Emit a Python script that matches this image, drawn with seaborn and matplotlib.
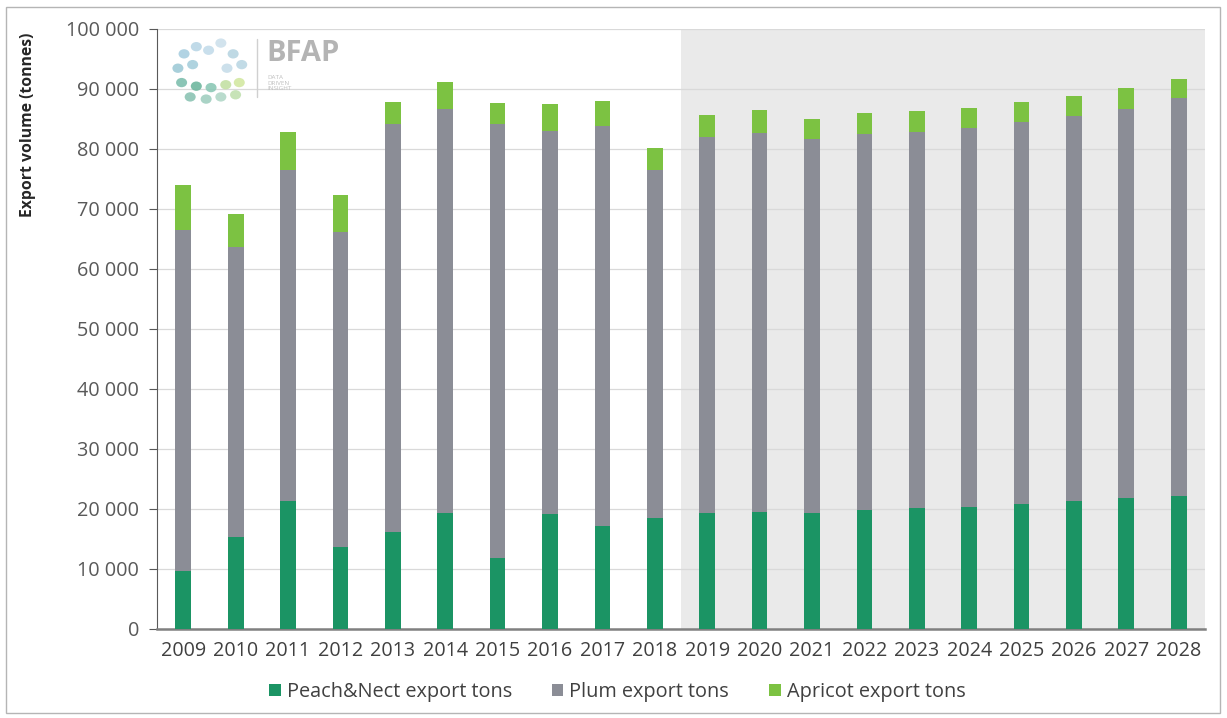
import matplotlib
matplotlib.use("Agg")
import matplotlib.pyplot as plt
import matplotlib.ticker as mticker
from matplotlib.patches import Rectangle, Ellipse
import seaborn as sns
import pandas as pd

# datos (toneladas)
years = [str(y) for y in range(2009, 2029)]
peach_nect = [9700, 15400, 21300, 13700, 16100, 19400, 11800, 19100, 17100, 18500,
              19400, 19450, 19400, 19750, 20200, 20400, 20850, 21350, 21850, 22150]
plum_top = [66400, 63700, 76400, 66100, 84100, 86600, 84100, 82900, 83800, 76400,
            82000, 82700, 81700, 82400, 82800, 83400, 84500, 85500, 86700, 88400]
total = [73900, 69050, 82800, 72300, 87850, 91050, 87600, 87500, 87900, 80100,
         85700, 86400, 85000, 86000, 86300, 86800, 87800, 88800, 90100, 91600]
plum = [t - p for t, p in zip(plum_top, peach_nect)]
apricot = [t - p for t, p in zip(total, plum_top)]
series_names = ["Peach&Nect export tons", "Plum export tons", "Apricot export tons"]
colors = ["#1b9464", "#8b8d96", "#7cc242"]

df = pd.DataFrame({"year": years, "peach": peach_nect, "plum": plum, "apricot": apricot})

sns.set_style("white")
plt.rcParams["font.family"] = ["Open Sans", "DejaVu Sans"]

fig = plt.figure(figsize=(12.27, 7.18), dpi=100)
ax = fig.add_axes([0.128, 0.124, 0.854, 0.836])

# zona de proyeccion
ax.axvspan(9.5, 19.5, color="#eaeaea", zorder=0, lw=0)

bottom = [0] * len(years)
for col, name, c in zip(["peach", "plum", "apricot"], series_names, colors):
    sns.barplot(data=df, x="year", y=col, color=c, bottom=bottom, width=0.3,
                label=name, ax=ax, zorder=3, saturation=1, linewidth=0)
    bottom = [b + v for b, v in zip(bottom, df[col])]

ax.set_xlim(-0.5, 19.5)
ax.set_ylim(0, 100000)
ax.yaxis.set_major_locator(mticker.MultipleLocator(10000))
ax.yaxis.set_major_formatter(mticker.FuncFormatter(lambda v, p: f"{int(v):,}".replace(",", " ")))
ax.grid(axis="y", color="#d9d9d9", lw=0.9, zorder=1)
ax.set_axisbelow(True)

# marcas del eje x entre categorias
ax.set_xticks([i + 0.5 for i in range(-1, 20)], minor=True)
ax.tick_params(axis="x", which="major", length=0, labelsize=14.2, labelcolor="#404040", pad=9)
ax.tick_params(axis="x", which="minor", length=5, color="#595959", direction="out")
ax.tick_params(axis="y", length=6, color="#595959", direction="out", labelsize=14.3,
               labelcolor="#595959", pad=7, left=True)

for s in ["top", "right"]:
    ax.spines[s].set_visible(False)
ax.spines["left"].set_color("#595959")
ax.spines["bottom"].set_color("#808080")
ax.spines["bottom"].set_linewidth(1.8)

ax.set_xlabel("")
ax.set_ylabel("Export volume (tonnes)", fontsize=11.3, fontweight="bold", color="#262626")
ax.yaxis.set_label_coords(-0.116, 0.84)

leg = ax.legend(loc="center", bbox_to_anchor=(0.439, -0.105), ncol=3, frameon=False,
                fontsize=14.3, handlelength=0.6, handleheight=0.6, columnspacing=2.0,
                handletextpad=0.3, borderaxespad=0)
for t in leg.get_texts():
    t.set_color("#404040")

# logo
fig.text(0.217, 0.925, "BFAP", fontsize=21, fontweight="bold", color="#b4b4b4", va="center")
fig.text(0.218, 0.884, "DATA\nDRIVEN\nINSIGHT", fontsize=4.5, color="#c0c0c0", va="center",
         linespacing=1.15)
fig.add_artist(plt.Line2D([0.2095, 0.2095], [0.865, 0.945], color="#d0d0d0", lw=1,
                          transform=fig.transFigure))
logo_dots = [(0.150, 0.925, "#a9cfe0"), (0.160, 0.935, "#b9d6e6"), (0.170, 0.930, "#c4dcea"),
             (0.180, 0.940, "#cde0ec"), (0.190, 0.925, "#b8d5e2"), (0.145, 0.905, "#9fcad6"),
             (0.157, 0.910, "#a6cfdc"), (0.185, 0.905, "#c7dde9"), (0.197, 0.910, "#bcd7e4"),
             (0.148, 0.885, "#7fbfae"), (0.160, 0.880, "#6fb79f"), (0.172, 0.878, "#8cc8b6"),
             (0.184, 0.882, "#c4e0a4"), (0.195, 0.885, "#d3e8a2"), (0.155, 0.865, "#8cc4b4"),
             (0.168, 0.862, "#a1cfc0"), (0.180, 0.865, "#b2d8c8"), (0.192, 0.868, "#c1e0b0")]
for lx, ly, lc in logo_dots:
    fig.add_artist(Ellipse((lx, ly), 0.009, 0.013, transform=fig.transFigure,
                           color=lc, alpha=0.9, lw=0))

# marco exterior
fig.add_artist(Rectangle((0.005, 0.007), 0.989, 0.983, transform=fig.transFigure,
                         fill=False, edgecolor="#b5b5b5", lw=1))

fig.savefig("out.png", dpi=100)
